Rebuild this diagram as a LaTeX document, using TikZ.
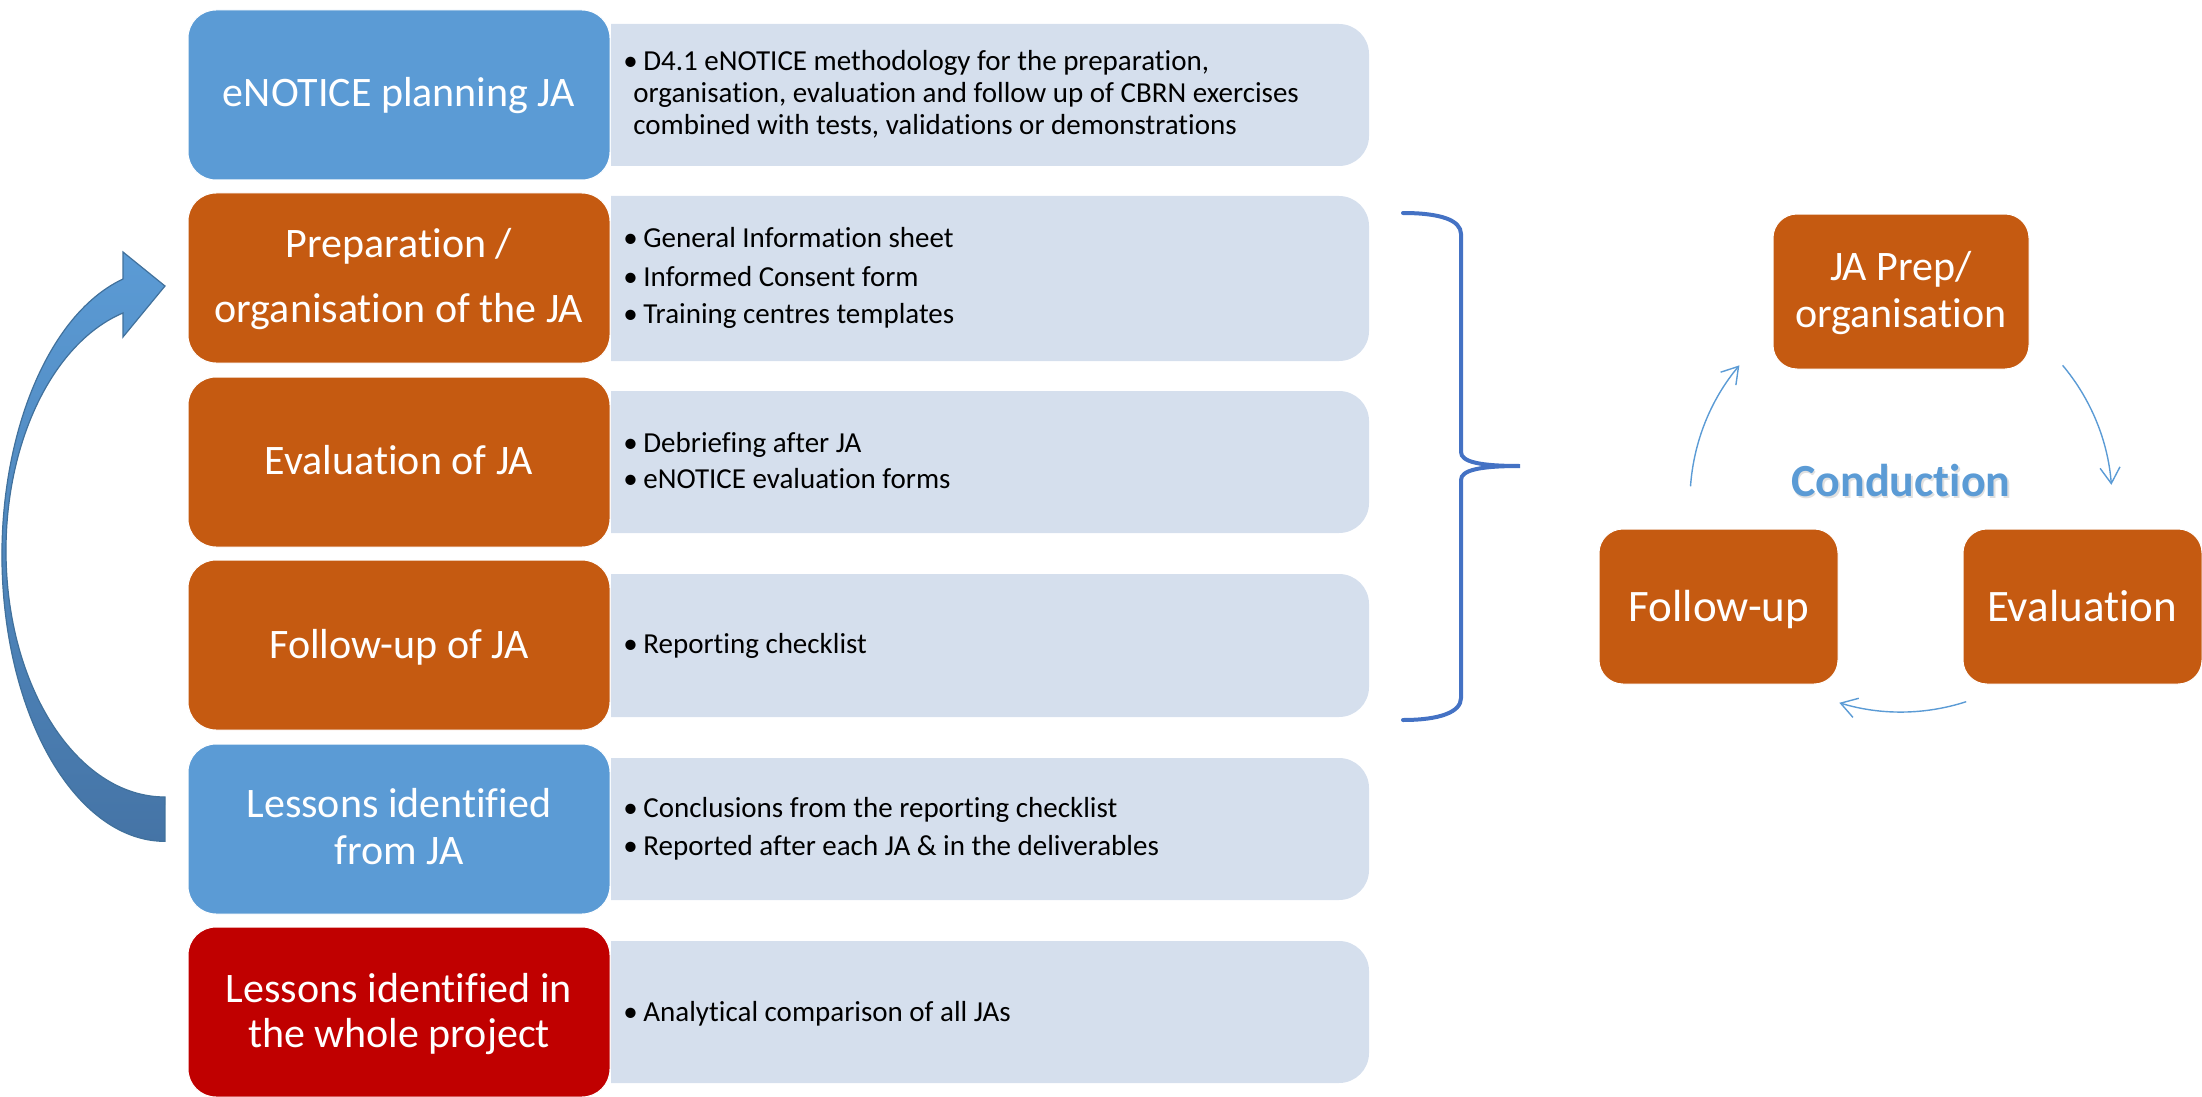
\documentclass[tikz,border=0pt]{standalone}
\usepackage{fontspec}
\setmainfont{Carlito}[Ligatures=NoCommon]
\usetikzlibrary{arrows.meta,calc}
\definecolor{accblue}{HTML}{5B9BD5}
\definecolor{accorange}{HTML}{C55A11}
\definecolor{accred}{HTML}{C00000}
\definecolor{lightbg}{HTML}{D5DFED}
\definecolor{bracecol}{HTML}{4472C4}
\definecolor{arrowdark}{HTML}{41719C}
\definecolor{arrowlow}{HTML}{4574A6}
\newcommand{\bpt}{\makebox[10pt][l]{•}}
\newcommand{\lightpanel}[2]{%
  \fill[lightbg] (611,#1) -- (1339,#1) arc[start angle=-90,end angle=0,radius=30]
    -- (1369,#2-30) arc[start angle=0,end angle=90,radius=30] -- (611,#2) -- cycle;}
\begin{document}
\begin{tikzpicture}[x=0.5pt,y=-0.5pt,
  darkbox/.style={rounded corners=14pt, draw=white, line width=0.5pt,
    minimum width=211pt, minimum height=85pt, inner sep=0pt},
  cycbox/.style={rounded corners=12pt, draw=white, line width=0.5pt,
    fill=accorange, minimum height=77.5pt, inner sep=0pt},
  ttl/.style={anchor=base, inner sep=0pt, text=white, font=\fontsize{21}{25}\selectfont},
  cyctxt/.style={anchor=base, inner sep=0pt, text=white, font=\fontsize{22.5}{27}\selectfont},
  bul/.style={anchor=base west, inner sep=0pt, text=black, font=\fontsize{14.5}{17}\selectfont},
  cycarrow/.style={draw=accblue, line width=0.7pt, -{Straight Barb[length=8pt,width=10pt]}},
  bracepath/.style={draw=bracecol, line width=2pt, line cap=round}]
\useasboundingbox (0,0) rectangle (2202,1097);

% curved return arrow
\path[draw=arrowdark, line width=0.6pt, top color=accblue, bottom color=arrowlow]
  (123,279) arc[start angle=255.07, end angle=90, x radius=163, y radius=286]
  -- (165,797) arc[start angle=90, end angle=254.7, x radius=159, y radius=246.4]
  -- (123,337) -- (165,286) -- (123,252) -- cycle;

% light panels
\lightpanel{24}{166}
\lightpanel{196}{361}
\lightpanel{391}{533}
\lightpanel{574}{717}
\lightpanel{758}{900}
\lightpanel{941}{1083}

% dark boxes
\node[darkbox, fill=accblue]   (b1) at (399,95)   {};
\node[darkbox, fill=accorange] (b2) at (399,278)  {};
\node[darkbox, fill=accorange] (b3) at (399,462)  {};
\node[darkbox, fill=accorange] (b4) at (399,645)  {};
\node[darkbox, fill=accblue]   (b5) at (399,829)  {};
\node[darkbox, fill=accred]    (b6) at (399,1012) {};

% titles
\node[ttl] (t1)  at (399,107)  {eNOTICE planning JA};
\node[ttl] (t2a) at (399,257)  {Preparation /};
\node[ttl] (t2b) at (399,322)  {organisation of the JA};
\node[ttl] (t3)  at (399,474)  {Evaluation of JA};
\node[ttl] (t4)  at (399,658)  {Follow-up of JA};
\node[ttl] (t5a) at (399,817)  {Lessons identified};
\node[ttl] (t5b) at (399,864)  {from JA};
\node[ttl] (t6a) at (399,1002) {Lessons identified in};
\node[ttl] (t6b) at (399,1047) {the whole project};

% bullet texts
\node[bul] (l1a) at (623,71)  {\bpt D4.1 eNOTICE methodology for the preparation,};
\node[bul] (l1b) at (633,103) {organisation, evaluation and follow up of CBRN exercises};
\node[bul] (l1c) at (633,135) {combined with tests, validations or demonstrations};
\node[bul] (l2a) at (623,248) {\bpt General Information sheet};
\node[bul] (l2b) at (623,286) {\bpt Informed Consent form};
\node[bul] (l2c) at (623,323) {\bpt Training centres templates};
\node[bul] (l3a) at (623,452) {\bpt Debriefing after JA};
\node[bul] (l3b) at (623,488) {\bpt eNOTICE evaluation forms};
\node[bul] (l4a) at (623,653) {\bpt Reporting checklist};
\node[bul] (l5a) at (623,817) {\bpt Conclusions from the reporting checklist};
\node[bul] (l5b) at (623,855) {\bpt Reported after each JA \& in the deliverables};
\node[bul] (l6a) at (623,1021) {\bpt Analytical comparison of all JAs};

% brace
\draw[bracepath] (1403,213) .. controls (1440,213) and (1461,220) .. (1461,234)
  -- (1461,452) .. controls (1461,462) and (1480,466) .. (1520,466)
  .. controls (1480,466) and (1461,470) .. (1461,480)
  -- (1461,698) .. controls (1461,712) and (1440,720) .. (1403,720);

% cycle
\node[cycbox, minimum width=128pt]   (cp) at (1901,291.5)   {};
\node[cycbox, minimum width=119.5pt] (cf) at (1718.5,606.5) {};
\node[cycbox, minimum width=119.5pt] (ce) at (2082.5,606.5) {};
\node[ttl] (cpa) at (1901,280) {JA Prep/};
\node[ttl] (cpb) at (1901,327) {organisation};
\node[cyctxt] (cft) at (1719,621) {Follow-up};
\node[cyctxt] (cet) at (2082,621) {Evaluation};

\node[anchor=base, inner sep=0pt, text=black, opacity=0.12,
  font=\fontsize{23}{27}\selectfont\bfseries] (condsh) at (1902.5,498.5) {Conduction};
\node[anchor=base, inner sep=0pt, text=accblue,
  font=\fontsize{23}{27}\selectfont\bfseries] (cond) at (1901,496) {Conduction};

\coordinate (cc) at (1901,501);
\draw[cycarrow] ($(cc)+(-176:211)$) arc[start angle=-176, end angle=-140, radius=211];
\draw[cycarrow] ($(cc)+(-40:211)$) arc[start angle=-40, end angle=-4.4, radius=211];
\draw[cycarrow] ($(cc)+(72:211)$) arc[start angle=72, end angle=107, radius=211];
\end{tikzpicture}
\end{document}
